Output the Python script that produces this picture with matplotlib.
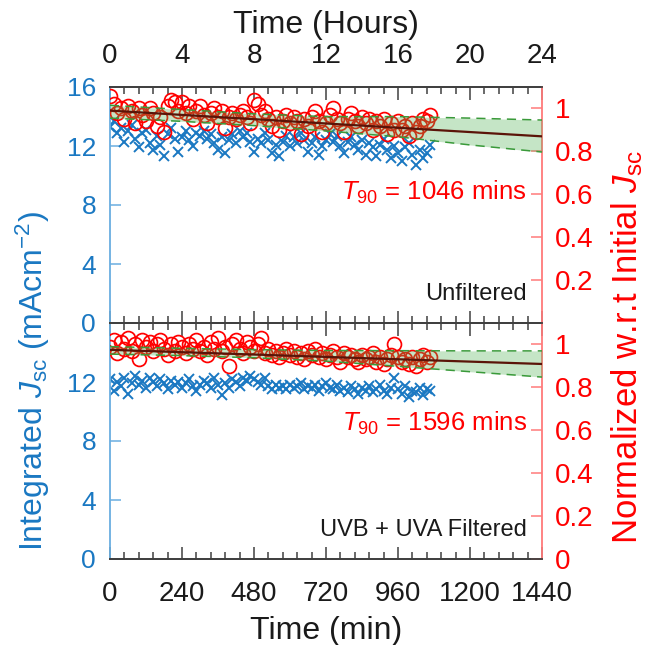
import matplotlib
matplotlib.use("Agg")
import matplotlib.pyplot as plt
from matplotlib.ticker import FuncFormatter, MultipleLocator, FixedLocator

plt.rcParams['font.family'] = ['Liberation Sans', 'DejaVu Sans']
plt.rcParams['mathtext.fontset'] = 'custom'
plt.rcParams['mathtext.rm'] = 'Liberation Sans'
plt.rcParams['mathtext.it'] = 'Liberation Sans:italic'

# ---------------- data ----------------
time_min = [0, 12, 24, 36, 48, 60, 72, 84, 96, 108,
            120, 132, 144, 156, 168, 180, 192, 204, 216, 228,
            240, 252, 264, 276, 288, 300, 312, 324, 336, 348,
            360, 372, 384, 396, 408, 420, 432, 444, 456, 468,
            480, 492, 504, 516, 528, 540, 552, 564, 576, 588,
            600, 612, 624, 636, 648, 660, 672, 684, 696, 708,
            720, 732, 744, 756, 768, 780, 792, 804, 816, 828,
            840, 852, 864, 876, 888, 900, 912, 924, 936, 948,
            960, 972, 984, 996, 1008, 1020, 1032, 1044, 1056, 1068]

top_jsc = [13.3, 13.7, 12.9, 13.2, 12.3, 13.0, 13.4, 12.5, 11.9, 12.9,
           13.1, 12.2, 11.7, 12.7, 12.1, 11.3, 12.8, 13.2, 12.5, 11.6,
           12.6, 13.0, 12.4, 12.0, 12.9, 12.7, 13.0, 12.5, 12.8, 12.2,
           11.7, 12.6, 11.5, 12.4, 12.8, 12.2, 13.0, 12.6, 12.9, 12.3,
           11.6, 12.5, 12.2, 12.9, 12.4, 11.5, 12.1, 11.3, 12.3, 12.7,
           12.0, 12.6, 12.2, 12.9, 12.4, 11.6, 12.2, 12.6, 11.4, 12.0,
           12.4, 12.8, 12.3, 12.7, 12.0, 11.5, 12.3, 12.6, 12.1, 11.7,
           12.4, 11.4, 12.2, 11.9, 11.3, 12.1, 12.5, 11.7, 11.2, 12.0,
           11.5, 11.0, 11.9, 12.2, 11.4, 10.7, 11.7, 11.2, 11.5, 12.1]

top_norm = [1.06, 1.02, 0.98, 1.00, 0.95, 1.01, 0.99, 0.93, 1.00, 0.97,
            0.94, 1.00, 0.98, 0.92, 0.96, 0.89, 1.01, 1.04, 1.03, 0.99,
            1.03, 0.98, 1.01, 0.95, 0.99, 1.01, 0.97, 0.93, 0.98, 1.00,
            0.96, 0.99, 0.91, 0.96, 0.98, 0.95, 0.97, 0.99, 0.96, 0.93,
            1.04, 1.02, 0.97, 0.99, 0.95, 0.92, 0.96, 0.90, 0.94, 0.97,
            0.93, 0.96, 0.94, 0.88, 0.95, 0.92, 0.96, 0.99, 0.94, 0.89,
            0.93, 0.97, 1.00, 0.95, 0.93, 0.89, 0.95, 0.98, 0.94, 0.92,
            0.96, 0.93, 0.95, 0.90, 0.94, 0.92, 0.95, 0.88, 0.93, 0.90,
            0.94, 0.90, 0.92, 0.87, 0.93, 0.89, 0.92, 0.95, 0.94, 0.97]

bot_jsc = [12.2, 11.4, 12.0, 11.7, 12.3, 11.2, 11.9, 12.4, 11.8, 12.1,
           11.6, 12.3, 12.0, 11.7, 12.2, 11.9, 11.5, 12.1, 11.8, 12.0,
           11.6, 11.9, 12.2, 11.7, 11.4, 11.8, 12.1, 11.9, 11.6, 12.3,
           11.8, 11.1, 11.9, 11.6, 12.2, 12.0, 11.7, 12.3, 12.1, 12.4,
           12.2, 12.0, 11.8, 12.3, 11.7, 11.5, 11.8, 11.6, 11.7, 11.5,
           11.8, 11.6, 11.7, 11.9, 11.5, 11.7, 11.6, 11.8, 11.4, 11.7,
           11.9, 11.6, 11.5, 11.8, 11.4, 11.6, 11.3, 11.7, 11.5, 11.2,
           11.6, 11.4, 11.7, 11.3, 11.5, 11.8, 11.4, 11.2, 11.6, 12.3,
           11.5, 11.2, 11.7, 11.0, 11.4, 11.3, 11.6, 11.1, 11.5, 11.4]

bot_norm = [0.99, 1.02, 0.96, 1.01, 0.98, 1.03, 0.97, 1.00, 0.93, 1.02,
            0.99, 1.01, 0.97, 1.00, 1.02, 0.98, 0.95, 1.00, 0.97, 1.01,
            0.99, 0.96, 1.00, 0.98, 1.02, 0.97, 0.99, 0.95, 1.01, 0.98,
            1.03, 0.97, 0.99, 0.90, 1.00, 1.02, 0.98, 0.96, 1.01, 0.99,
            0.97, 1.00, 1.03, 0.96, 0.98, 0.95, 0.97, 0.94, 0.96, 0.98,
            0.95, 0.97, 0.94, 0.96, 0.93, 0.97, 0.95, 0.98, 0.94, 0.96,
            0.93, 0.95, 0.97, 0.94, 0.92, 0.96, 0.94, 0.95, 0.93, 0.92,
            0.95, 0.93, 0.94, 0.96, 0.92, 0.94, 0.91, 0.93, 0.95, 1.00,
            0.94, 0.92, 0.93, 0.91, 0.94, 0.90, 0.93, 0.95, 0.92, 0.94]

# linear fit endpoints and confidence band
fit_t = [0, 1440]
top_fit = [0.99, 0.87]
bot_fit = [0.975, 0.909]
band_t = [0, 240, 480, 720, 960, 1200, 1440]
top_upper = [1.015, 0.995, 0.975, 0.962, 0.962, 0.955, 0.946]
top_lower = [0.955, 0.940, 0.920, 0.895, 0.868, 0.830, 0.797]
bot_upper = [0.990, 0.982, 0.976, 0.972, 0.971, 0.970, 0.970]
bot_lower = [0.955, 0.948, 0.938, 0.922, 0.898, 0.873, 0.848]

t90_labels = ["$T_{90}$ = 1046 mins", "$T_{90}$ = 1596 mins"]
panel_labels = ["Unfiltered", "UVB + UVA Filtered"]
x_ticks = [0, 240, 480, 720, 960, 1200, 1440]

# ---------------- style ----------------
BLUE = '#1a78c2'
BLUE_SP = '#6aaee0'
RED = '#ff0000'
RED_SP = '#ff7a7a'
GRAY = '#404040'
GREEN_LINE = '#3a9a3a'
GREEN_FILL = '#4caf50'
BROWN = '#5a1408'

fig = plt.figure(figsize=(6.49, 6.45), dpi=100)
L, W = 110 / 649, 432 / 649
ax1 = fig.add_axes([L, 1 - 323 / 645, W, 236 / 645])
ax2 = fig.add_axes([L, 1 - 559 / 645, W, 236 / 645])

panels = [(ax1, top_jsc, top_norm, top_fit, top_upper, top_lower),
          (ax2, bot_jsc, bot_norm, bot_fit, bot_upper, bot_lower)]

for i, (ax, jsc, norm, fit, up, lo) in enumerate(panels):
    tw = ax.twinx()
    ax.plot(time_min, jsc, linestyle='none', marker='x', color=BLUE,
            markersize=7.5, markeredgewidth=1.4, zorder=2)
    tw.plot(time_min, norm, linestyle='none', marker='o', markerfacecolor='none',
            markeredgecolor=RED, markersize=10, markeredgewidth=1.25, zorder=2)
    tw.fill_between(band_t, lo, up, color=GREEN_FILL, alpha=0.32, linewidth=0, zorder=3)
    tw.plot(band_t, up, linestyle=(0, (6, 4)), color=GREEN_LINE, linewidth=1.1, zorder=4)
    tw.plot(band_t, lo, linestyle=(0, (6, 4)), color=GREEN_LINE, linewidth=1.1, zorder=4)
    tw.plot(fit_t, fit, color=BROWN, linewidth=1.6, zorder=5)

    ax.set_xlim(0, 1440)
    ax.set_ylim(0, 16)
    tw.set_ylim(0, 1.1)

    # spines
    ax.spines['left'].set_color(BLUE_SP)
    ax.spines['right'].set_visible(False)
    tw.spines['left'].set_visible(False)
    tw.spines['right'].set_color(RED_SP)
    for a in (ax, tw):
        a.spines['top'].set_color(GRAY)
        a.spines['bottom'].set_color(GRAY)
        for s in a.spines.values():
            s.set_linewidth(1.3)

    # x ticks
    ax.xaxis.set_major_locator(FixedLocator(x_ticks))
    ax.xaxis.set_minor_locator(MultipleLocator(48))
    ax.tick_params(axis='x', which='both', direction='in', top=True, bottom=True,
                   color=GRAY, labelsize=20, labelcolor='#1a1a1a')
    ax.tick_params(axis='x', which='major', length=9, width=1.1)
    ax.tick_params(axis='x', which='minor', length=5, width=1.1)

    # y ticks
    ax.tick_params(axis='y', direction='in', length=8, width=1.1, color=BLUE_SP,
                   labelcolor=BLUE, labelsize=19, pad=10)
    tw.tick_params(axis='y', direction='in', length=8, width=1.1, color=RED_SP,
                   labelcolor=RED, labelsize=20, pad=9)

    ax.text(0.965, 0.555 if i == 0 else 0.575, t90_labels[i], transform=ax.transAxes,
            ha='right', va='center', color=RED, fontsize=18.5)
    ax.text(0.965, 0.125, panel_labels[i], transform=ax.transAxes,
            ha='right', va='center', color='#1a1a1a', fontsize=17)

    if i == 0:
        ax.set_yticks([0, 4, 8, 12, 16])
        tw.set_yticks([0.2, 0.4, 0.6, 0.8, 1.0])
        tw.set_yticklabels(['0.2', '0.4', '0.6', '0.8', '1'])
        ax.tick_params(axis='x', labelbottom=False, labeltop=True, pad=13)
        ax.xaxis.set_major_formatter(FuncFormatter(lambda v, p: f"{v/60:.0f}"))
        ax.xaxis.set_label_position('top')
        ax.set_xlabel('Time (Hours)', fontsize=23, color='#1a1a1a', labelpad=7)
    else:
        ax.set_yticks([0, 4, 8, 12, 16])
        ax.set_yticklabels(['0', '4', '8', '12', ''])
        tw.set_yticks([0, 0.2, 0.4, 0.6, 0.8, 1.0])
        tw.set_yticklabels(['0', '0.2', '0.4', '0.6', '0.8', '1'])
        ax.tick_params(axis='x', labelbottom=True, labeltop=False, pad=16)
        ax.set_xlabel('Time (min)', fontsize=23, color='#1a1a1a', labelpad=6)

fig.text(33 / 649, 1 - 381 / 645, 'Integrated $J_{\\mathrm{sc}}$ (mAcm$^{-2}$)',
         rotation=90, ha='center', va='center', color=BLUE, fontsize=23)
fig.text(627 / 649, 1 - 347 / 645, 'Normalized w.r.t Initial $J_{\\mathrm{sc}}$',
         rotation=90, ha='center', va='center', color=RED, fontsize=25)

fig.savefig('out.png', dpi=100)
